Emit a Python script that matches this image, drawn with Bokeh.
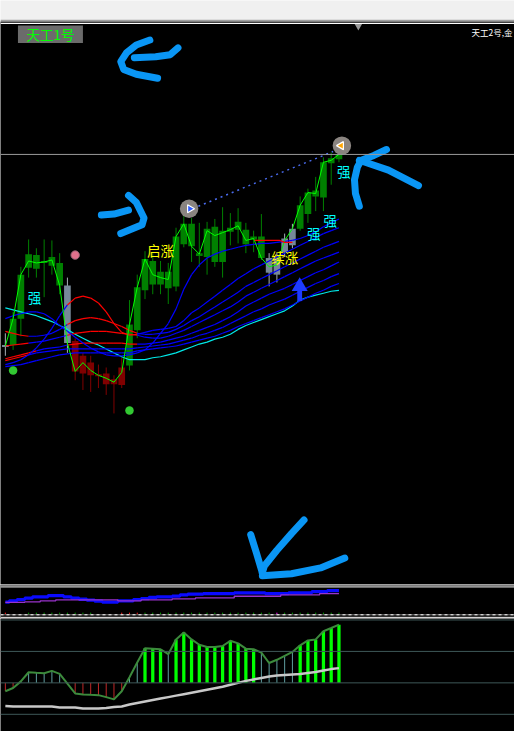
from bokeh.plotting import figure
from bokeh.layouts import column
from bokeh.models import Range1d, Span
from bokeh.core.properties import value
from bokeh.embed import file_html
from bokeh.resources import INLINE

# ---------------- data (chart levels; larger = lower on screen) -------------
bars = list(range(44))
high  = [340,318,272,244,253,244,245,258,283,345,360,363,372,375,383,365,306,280,256,258,266,268,232,220,222,227,226,223,211,217,212,227,235,218,258,257,238,228,200,192,180,160,155,142]
btop  = [352,325,280,259,260,266,262,268,291,348,363,370,382,381,387,375,331,293,264,266,277,277,241,228,228,258,233,231,235,232,226,234,241,241,263,263,243,233,209,196,194,165,161,157]
bbot  = [354,352,325,273,274,268,271,291,350,379,381,383,384,392,392,393,373,337,296,290,290,294,292,249,251,261,262,267,267,236,234,249,244,263,278,280,257,250,233,218,200,201,166,162]
low   = [363,357,343,283,283,303,280,300,360,388,398,400,396,403,422,396,378,345,305,300,300,310,297,252,267,272,280,272,283,250,248,258,257,265,292,288,262,253,235,227,215,215,188,165]
ckind = "sgggggggsrrrrrrrggggggggggggggggggssssggggggg"
close = [353,325,280,266,268,267,265,291,350,379,370,378,383,386,390,380,331,293,264,280,283,285,241,228,251,259,235,240,237,234,230,245,243,263,272,270,245,233,209,196,197,165,163,157]

ma1 = [325,322,320,318,318,320,325,332,338,344,350,355,359,362,363,363,362,360,357,350,340,330,315,295,280,270,263,259,256,254,252,250,249,248,248,247,246,245,243,240,236,231,227,223]
ma1c = "b" * 44
ma2 = [372,370,367,362,355,346,335,322,311,304,302,304,309,318,330,339,342,341,339,337,336,335,333,327,319,314,308,302,296,290,284,279,274,270,266,262,258,254,250,246,242,238,235,232]
ma2c = "bbbbbbbbrrrrrrrrr" + "b" * 27
ma3 = [338,340,342,343,343,342,340,336,331,327,325,324,325,327,330,333,337,340,341,341,340,339,336,332,327,323,318,313,308,303,298,292,288,284,280,276,272,268,264,260,256,252,249,246]
ma3c = "rrrbbbbbrrrrrrrrr" + "b" * 27
ma4 = [353,352,351,350,349,348,346,344,342,340,339,338,338,338,339,340,341,342,344,345,345,343,340,337,333,329,325,321,317,313,308,302,298,294,290,286,282,278,274,270,266,263,260,257]
ma4c = "rrrbbbbbrrrrrrrrr" + "b" * 27
ma5 = [366,364,362,360,358,356,355,354,352,351,350,350,350,350,350,350,351,351,351,350,349,347,345,343,340,337,334,331,327,323,318,312,308,304,300,297,294,290,286,282,278,275,271,267]
ma5c = "rrrrbbbbrrrrrrrrr" + "b" * 27
ma6 = [368,366,364,362,360,359,358,357,356,356,356,356,356,356,356,356,356,355,354,353,352,351,349,347,345,342,340,337,334,330,326,322,318,315,311,308,305,301,297,293,289,286,282,279]
ma6c = "rrr" + "b" * 41
ma7 = [374,373,372,370,368,366,364,362,361,360,360,360,360,360,360,360,360,358,357,356,355,354,353,351,349,347,345,343,340,337,333,330,327,324,321,318,315,311,307,303,299,296,292,289]
ma7c = "b" * 44
cyan = [314,316,318,320,322,325,328,332,336,341,345,349,352,356,360,364,367,367,367,365,364,362,360,357,354,351,349,346,344,341,336,332,329,326,323,320,317,312,306,303,301,299,297,296]

# indicator 1 (thin panel)
ind_blue   = [615.2,613.8,612.5,611.1,609.7,609.7,608.4,608.4,609.7,611,612.2,613,614,615.2,615.2,613.8,613.8,612.5,611.5,610.4,609.7,609.7,609,607.7,607,607,606.4,606.4,606.4,606.4,605.7,605.7,605.7,605.7,606.4,606.4,606.4,605.7,605.7,605.7,604.3,604.3,603.3,603.3]
ind_purple = [615.5,615.5,615.5,614.8,614.8,613.8,613.8,612.8,612.8,612.8,612.8,612.8,612.8,612.8,612.8,613.8,613.8,613.8,612.8,612.8,612.8,612.8,611.8,611.8,611.8,610.8,610.8,610.8,610.8,610.8,609.1,609.1,609.1,609.1,609.1,609.1,607.7,607.7,607.7,607.7,607.7,606.4,606.4,606.4]
tick_kind  = "r..ggggggggg...rrrgggggggggggggggggm" + "g" * 8  # r/g/m ticks on the baseline, '.' none

# indicator 2 (histogram panel)
hist     = [706,702.7,696,686.7,687.3,687.7,685.3,688.3,698.3,708.3,709.3,709.7,710,712,714.3,706,691.7,676.7,662.3,662.7,663.3,668.3,653.3,646.3,653.3,658.7,661,661,660,654.7,657.3,662.7,663.3,666.7,677.3,674,670,666,659.3,654.3,653.3,645,641.7,638.3]
hkind    = "rrttttttrrrrrrrrttgggtgggggggggggtttttgggggg"
signal   = [721,721.5,721.5,721.5,721.5,721.5,721.5,722.5,722.5,722.5,723.5,723.5,723.5,723,722,721.5,719.5,718,716.5,715,713.5,712,710.5,709,707.5,706,704.5,703,701.5,699.5,697.5,695.5,694,692.5,691,690,689.5,689,688.5,687.5,686.5,685,683.5,682.5]
hist_zero = 697.5
hist_levels = [633.5, 665.5, 697.5, 729.5]

# texts / markers (positions in pixels of the original 530x747 window)
labels_yellow = [("启涨", 165, 255), ("续涨", 293, 262)]
labels_cyan = [("强", 35, 303), ("强", 354, 174), ("强", 340, 224), ("强", 323, 237)]
price_line_y = 157
red_level = [(262, 245), (288, 245), (293, 247), (301, 247)]
dash_pts = [(204, 210), (343, 154)]
circles = [(194.5, 212.5), (352, 148)]
pink_dot = (77, 260)
green_dots = [(13, 378), (133, 419)]
up_arrow = (308.5, 297)

strokes = [
    [(154, 40), (140, 45), (130, 53), (124, 62), (127, 70), (140, 75), (162, 79)],
    [(138, 58), (160, 57), (175, 55), (183, 48)],
    [(104, 219), (117, 218), (132, 214)],
    [(132, 199), (140, 206), (148, 222), (146, 229), (124, 238)],
    [(398, 152), (385, 158), (372, 163), (368, 170), (365, 183), (366, 197), (370, 210)],
    [(370, 163), (400, 173), (431, 189)],
    [(313, 531), (300, 545), (285, 562), (272, 578), (270, 585)],
    [(258, 546), (264, 565), (270, 585)],
    [(270, 588), (300, 586), (330, 580), (355, 570)],
]

# ---------------- layout helpers -------------
W = 514
REF_W = 530


def kx(px):
    return (px - 5) / 8.0


xr = Range1d(kx(0), kx(REF_W))


def make_fig(h, ytop, ybot, bg="#000000"):
    p = figure(width=W, height=h, x_range=xr, y_range=Range1d(ybot, ytop),
               output_backend="svg", toolbar_location=None, min_border=0,
               x_axis_location=None, y_axis_location=None,
               background_fill_color=bg, border_fill_color=bg, outline_line_color=None)
    p.grid.visible = False
    return p


CJK = value("Noto Sans CJK SC")
FS = "13.5px"
STROKE = "#0a96f5"

# ---------------- title strip -------------
pa = make_fig(21, 0, 21, bg="#f0f0f0")
pa.quad(left=[kx(0)], right=[kx(REF_W)], top=[19.3], bottom=[21], fill_color="#a0a0a0", line_color=None)

# ---------------- main price panel -------------
pm = make_fig(563, 21, 597)
pm.add_layout(Span(location=23, dimension="width", line_color="#ffffff", line_width=1.3))
pm.add_layout(Span(location=price_line_y, dimension="width", line_color="#9a9a9a", line_width=1))

col = {"g": "#008000", "r": "#800000", "s": "#778899"}
wick_col = {"g": "#008000", "r": "#800000", "s": "#a8b0b8"}
pm.segment(x0=bars, x1=bars, y0=high, y1=low, line_color=[wick_col[c] for c in ckind], line_width=1)
pm.quad(left=[b - 0.43 for b in bars], right=[b + 0.43 for b in bars], top=btop, bottom=bbot,
        fill_color=[col[c] for c in ckind], line_color=None)


def draw_ma(vals, cols, width=1.0):
    pm.segment(x0=bars[:-1], x1=bars[1:], y0=vals[:-1], y1=vals[1:],
               line_color=["#0000ff" if c == "b" else "#ff0000" for c in cols[:-1]], line_width=width)


pm.line(bars, cyan, line_color="#00e8e8", line_width=1.2)
for v, c in [(ma7, ma7c), (ma6, ma6c), (ma5, ma5c), (ma4, ma4c), (ma3, ma3c), (ma2, ma2c), (ma1, ma1c)]:
    draw_ma(v, c, 1.2)

pm.line(bars, close, line_color="#00ff00", line_width=1)

pm.line([kx(p[0]) for p in red_level], [p[1] for p in red_level], line_color="#ff0000", line_width=1.2)
pm.line([kx(p[0]) for p in dash_pts], [p[1] for p in dash_pts], line_color="#4a6cf0", line_width=1.5, line_dash="2 4")

# circles with arrows
pm.scatter([kx(c[0]) for c in circles], [c[1] for c in circles], size=18.5, fill_color="#8a8480",
           line_color=None, marker="circle")
pm.scatter([kx(circles[0][0]) + 0.1], [circles[0][1]], size=8, marker="triangle", angle=-1.5708,
           fill_color="#2f5bff", line_color="#ffffff", line_width=1.2)
pm.scatter([kx(circles[1][0]) - 0.1], [circles[1][1]], size=8, marker="triangle", angle=1.5708,
           fill_color="#ffa500", line_color="#ffffff", line_width=1.2)

pm.scatter([kx(pink_dot[0])], [pink_dot[1]], size=8.5, fill_color="#e0708c", line_color="#906070", marker="circle")
pm.scatter([kx(d[0]) for d in green_dots], [d[1] for d in green_dots], size=8.5, fill_color="#32c832",
           line_color=None, marker="circle")

# blue up arrow
pm.scatter([kx(up_arrow[0])], [up_arrow[1] - 5], size=16, marker="triangle", fill_color="#1e3cff", line_color=None)
pm.quad(left=[kx(up_arrow[0] - 2.5)], right=[kx(up_arrow[0] + 2.5)], top=[up_arrow[1] - 2], bottom=[up_arrow[1] + 10],
        fill_color="#1e3cff", line_color=None)

pm.text([kx(t[1]) for t in labels_yellow], [t[2] for t in labels_yellow], text=[t[0] for t in labels_yellow],
        text_color="#ffff00", text_font=CJK, text_font_size=FS, text_align="center", text_baseline="middle")
pm.text([kx(t[1]) for t in labels_cyan], [t[2] for t in labels_cyan], text=[t[0] for t in labels_cyan],
        text_color="#00ffff", text_font=CJK, text_font_size=FS, text_align="center", text_baseline="middle")

# title box and corner text
pm.quad(left=[kx(18)], right=[kx(85)], top=[25], bottom=[43], fill_color="#6b6b6b", line_color=None)
pm.text([kx(51.5)], [34], text=["天工1号"], text_color="#00ff00", text_font=CJK, text_font_size=FS,
        text_align="center", text_baseline="middle")
pm.text([kx(528)], [31.5], text=["天工2号,金"], text_color="#ffffff", text_font=CJK, text_font_size="8.5px",
        text_align="right", text_baseline="middle")
pm.scatter([kx(369)], [25.5], size=8, marker="inverted_triangle", fill_color="#9a9a9a", line_color=None)

# hand-drawn annotation strokes
pm.multi_line([[kx(p[0]) for p in s] for s in strokes], [[p[1] for p in s] for s in strokes],
              line_color=STROKE, line_width=7, line_cap="round", line_join="round")

# ---------------- indicator panel 1 -------------
pc = make_fig(34, 597, 632)
pc.add_layout(Span(location=597.5, dimension="width", line_color="#ffffff", line_width=1))
pc.add_layout(Span(location=599.5, dimension="width", line_color="#ffffff", line_width=1))
pc.step(bars, ind_blue, mode="center", line_color="#0a0aff", line_width=3.3)
pc.step(bars, ind_purple, mode="center", line_color="#9932cc", line_width=1.3)
pc.add_layout(Span(location=628.2, dimension="width", line_color="#808080", line_width=1))
pc.add_layout(Span(location=628.2, dimension="width", line_color="#ffffff", line_width=1, line_dash="3 3"))
pc.add_layout(Span(location=630.8, dimension="width", line_color="#ffffff", line_width=1))
tk = {"r": "#ff2020", "g": "#00a000", "m": "#ff00ff"}
tx = [b for b, c in zip(bars, tick_kind) if c in tk]
tcol = [tk[c] for c in tick_kind if c in tk]
pc.segment(x0=tx, x1=tx, y0=[626] * len(tx), y1=[627.6] * len(tx), line_color=tcol, line_width=1)

# ---------------- indicator panel 2 -------------
pd_ = make_fig(113, 632, 747)
for lv in hist_levels:
    pd_.add_layout(Span(location=lv, dimension="width", line_color="#3e5858", line_width=1))
thin_x = [b for b, c in zip(bars, hkind) if c != "g"]
thin_y = [h for h, c in zip(hist, hkind) if c != "g"]
thin_c = ["#5f9ea0" if c == "t" else "#c02828" for c in hkind if c != "g"]
pd_.segment(x0=thin_x, x1=thin_x, y0=[hist_zero] * len(thin_x), y1=thin_y, line_color=thin_c, line_width=1)
gx = [b for b, c in zip(bars, hkind) if c == "g"]
gy = [h for h, c in zip(hist, hkind) if c == "g"]
pd_.vbar(x=gx, width=0.42, top=gy, bottom=hist_zero, fill_color="#00ff00", line_color=None)
pd_.line(bars, hist, line_color="#3c8a3c", line_width=2)
pd_.line(bars, signal, line_color="#c8c8c8", line_width=2.5)

layout = column(pa, pm, pc, pd_, spacing=0)
open("out.html", "w").write(file_html(layout, INLINE))
